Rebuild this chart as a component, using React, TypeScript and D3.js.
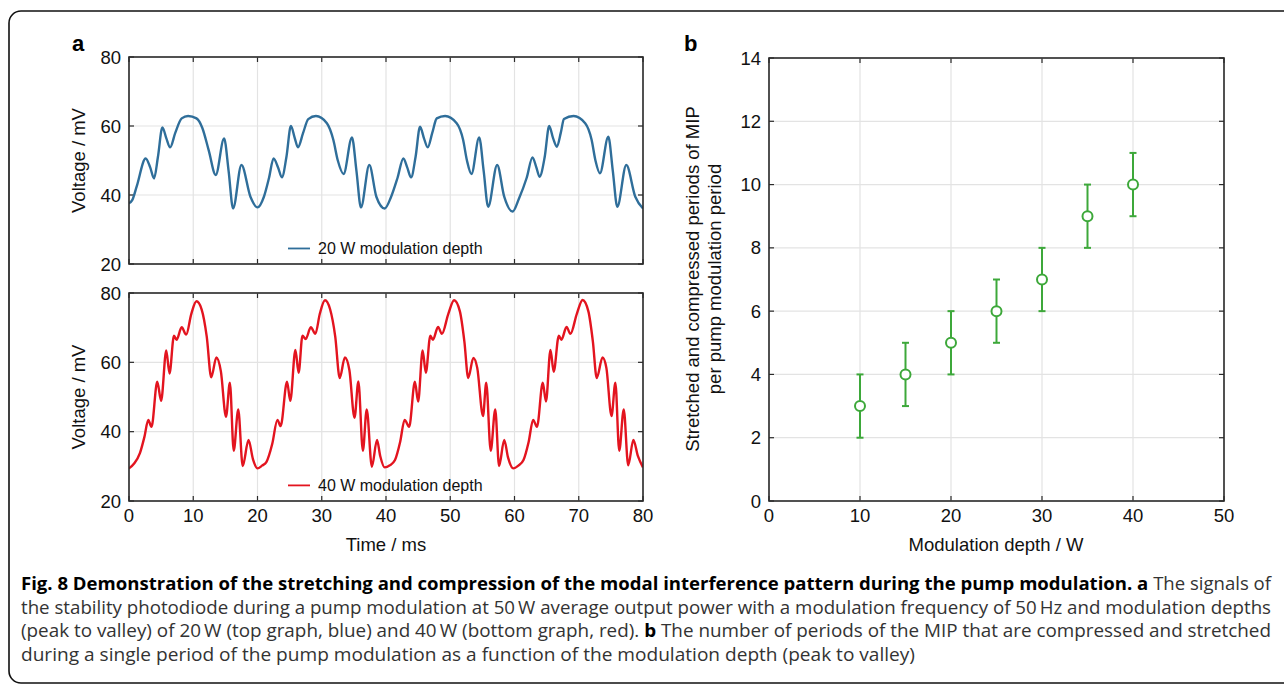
import React from "react";
import * as d3 from "d3";

// panel a: photodiode signal, time in ms, voltage in mV
const timeTicks = [0, 10, 20, 30, 40, 50, 60, 70, 80];
const voltageTicks = [20, 40, 60, 80];

const signal20W: [number, number][] = [
  [0, 37.6], [0.5, 38.5], [1.2, 42.5], [2.6, 50.6], [3.3, 48], [3.9, 44.8], [4.5, 51], [5.2, 59.6],
  [5.8, 56.5], [6.4, 53.8], [7.2, 58], [8.2, 62.2], [9.2, 62.9], [10.5, 62.2], [11.4, 59.5], [12.4, 53],
  [13.5, 45.8], [14.8, 56.4], [15.5, 47], [16.2, 36.1], [17.5, 48.7], [18.9, 39.5], [20.0, 36.4],
  [21.0, 39.5], [21.8, 45], [22.5, 50.6], [23.2, 48], [23.8, 45.1], [24.5, 51], [25.2, 60.0], [25.8, 56.5],
  [26.3, 53.8], [27.1, 58], [27.9, 62], [29.1, 62.9], [30.8, 60.8], [31.8, 56], [32.5, 50], [33.4, 46.1],
  [34.7, 56.7], [35.4, 47], [36.1, 36.4], [37.4, 48.7], [38.5, 39.5], [39.8, 36.1],
  [40.8, 39.5], [41.8, 45], [42.7, 50.6], [43.3, 48], [43.9, 45.1], [44.6, 51], [45.3, 59.8], [45.9, 56.5],
  [46.5, 53.8], [47.2, 58], [47.9, 62.2], [49.2, 62.9], [51.0, 60.8], [52.0, 56], [52.6, 50], [53.3, 46.1],
  [54.5, 56.7], [55.2, 47], [55.9, 36.6], [57.3, 48.7], [58.4, 39.5], [59.7, 35.2],
  [60.7, 39], [61.9, 45], [62.8, 50.9], [63.4, 48], [63.9, 45.3], [64.7, 51], [65.4, 60.0], [66.0, 56.5],
  [66.6, 54.0], [67.2, 58], [67.7, 62], [69.2, 62.9], [71.0, 60.8], [72.0, 56], [72.6, 50], [73.3, 46.3],
  [74.6, 56.9], [75.3, 47], [76.0, 36.6], [77.4, 48.7], [78.8, 39.5], [80, 36.1],
];

const signal40W: [number, number][] = [
  [0, 29.4], [0.8, 30.8], [1.7, 33.8], [2.4, 38.5], [3.0, 43.4], [3.5, 41.4], [4.4, 54.4], [5.0, 48.9],
  [5.8, 63.4], [6.3, 56.8], [7.0, 67.7], [7.4, 66.5], [8.2, 70.1], [8.9, 68.0], [9.7, 74], [10.5, 77.6],
  [11.3, 75.3], [12.1, 67.4], [12.8, 55.7], [13.6, 61.4], [14.3, 57.4], [15.1, 44.3], [15.7, 54.1],
  [16.3, 34.5], [17.0, 46.4], [17.7, 30.1], [18.6, 37.6], [19.3, 32], [20.0, 29.4],
  [20.7, 30.2], [21.4, 31.3], [22.3, 36.5], [23.1, 43.4], [23.6, 41.6], [24.6, 54.4], [25.1, 48.9],
  [25.9, 63.6], [26.4, 57], [27.0, 67.7], [27.5, 66.7], [28.3, 70.1], [29.0, 68.2], [29.7, 74], [30.5, 77.9],
  [31.3, 75.3], [32.1, 67.4], [32.8, 55.5], [33.6, 61.4], [34.3, 57.8], [35.1, 44], [35.7, 54.5],
  [36.4, 34.5], [37.0, 46.4], [37.8, 29.9], [38.6, 37.6], [39.1, 33], [39.8, 29.7],
  [40.6, 30.3], [41.4, 31.8], [42.2, 37], [42.9, 43.4], [43.6, 41.4], [44.5, 54.4], [45.0, 48.7],
  [45.7, 63.4], [46.2, 57], [46.9, 67.7], [47.3, 66.5], [48.1, 70.2], [48.7, 68.2], [49.7, 74], [50.6, 77.9],
  [51.5, 74.7], [52.2, 66], [52.8, 55.5], [53.6, 61.3], [54.2, 58.4], [55.1, 44.5], [55.6, 54.1],
  [56.3, 34.5], [57.0, 46.4], [57.6, 30.1], [58.4, 37.6], [59.0, 32.5], [59.8, 29.4],
  [60.6, 30.2], [61.4, 31.8], [62.2, 37], [62.9, 43.4], [63.5, 41.4], [64.4, 54.1], [64.9, 48.7],
  [65.6, 63.6], [66.1, 57.3], [66.9, 67.7], [67.3, 66.5], [68.1, 70.2], [68.7, 68.2], [69.7, 74], [70.6, 78],
  [71.5, 74.7], [72.2, 66], [72.8, 55.5], [73.7, 61.4], [74.3, 58.4], [75.1, 44.5], [75.7, 54.1],
  [76.3, 34.5], [77.0, 46.4], [77.7, 30.3], [78.5, 37.6], [79.2, 33], [80, 29.7],
];

// panel b: periods of MIP vs modulation depth
const depthTicks = [0, 10, 20, 30, 40, 50];
const periodTicks = [0, 2, 4, 6, 8, 10, 12, 14];
const depthW = [10, 15, 20, 25, 30, 35, 40];
const periodsMean = [3, 4, 5, 6, 7, 9, 10];
const periodsLow = [2, 3, 4, 5, 6, 8, 9];
const periodsHigh = [4, 5, 6, 7, 8, 10, 11];

const captionLines: [string, boolean][][] = [
  [["Fig. 8 Demonstration of the stretching and compression of the modal interference pattern during the pump modulation.", true], [" ", false], ["a", true], [" The signals of", false]],
  [["the stability photodiode during a pump modulation at 50\u2009W average output power with a modulation frequency of 50\u2009Hz and modulation depths", false]],
  [["(peak to valley) of 20\u2009W (top graph, blue) and 40\u2009W (bottom graph, red). ", false], ["b", true], [" The number of periods of the MIP that are compressed and stretched", false]],
  [["during a single period of the pump modulation as a function of the modulation depth (peak to valley)", false]],
];

const BLUE = "#2f6e9a";
const RED = "#e3141f";
const GREEN = "#3da83a";
const FRAME = "#2a2a2a";
const GRID = "#e3e3e3";
const FONT = "'Liberation Sans', Arial, Helvetica, sans-serif";
const FS = 18.5;

type Scale = d3.ScaleLinear<number, number>;

function Frame({ x, y, xTicks, yTicks, xLabels }: { x: Scale; y: Scale; xTicks: number[]; yTicks: number[]; xLabels: boolean }) {
  const [x0, x1] = x.range();
  const [y0, y1] = y.range();
  const tk = 5;
  return (
    <g>
      {xTicks.map((t) => (
        <g key={"x" + t}>
          <line x1={x(t)} x2={x(t)} y1={y1} y2={y0} stroke={GRID} strokeWidth={1.2} />
          <line x1={x(t)} x2={x(t)} y1={y0} y2={y0 - tk} stroke={FRAME} strokeWidth={1.2} />
          <line x1={x(t)} x2={x(t)} y1={y1} y2={y1 + tk} stroke={FRAME} strokeWidth={1.2} />
          {xLabels && (
            <text x={x(t)} y={y0 + 21} textAnchor="middle" fontSize={FS} fill="#111">{t}</text>
          )}
        </g>
      ))}
      {yTicks.map((t) => (
        <g key={"y" + t}>
          <line x1={x0} x2={x1} y1={y(t)} y2={y(t)} stroke={GRID} strokeWidth={1.2} />
          <line x1={x0} x2={x0 + tk} y1={y(t)} y2={y(t)} stroke={FRAME} strokeWidth={1.2} />
          <line x1={x1} x2={x1 - tk} y1={y(t)} y2={y(t)} stroke={FRAME} strokeWidth={1.2} />
          <text x={x0 - 8} y={y(t) + 6.5} textAnchor="end" fontSize={FS} fill="#111">{t}</text>
        </g>
      ))}
    </g>
  );
}

function Border({ x, y }: { x: Scale; y: Scale }) {
  const [x0, x1] = x.range();
  const [y0, y1] = y.range();
  return <rect x={x0} y={y1} width={x1 - x0} height={y0 - y1} fill="none" stroke={FRAME} strokeWidth={1.6} />;
}

function SignalPanel({ data, color, top, bottom, legend, xLabels, id }: {
  data: [number, number][]; color: string; top: number; bottom: number; legend: string; xLabels: boolean; id: string;
}) {
  const x = d3.scaleLinear().domain([0, 80]).range([129, 643]);
  const y = d3.scaleLinear().domain([20, 80]).range([bottom, top]);
  const line = d3.line<[number, number]>().x((d) => x(d[0])).y((d) => y(d[1])).curve(d3.curveMonotoneX);
  const legendY = y(24.5);
  return (
    <g>
      <defs>
        <clipPath id={id}>
          <rect x={129} y={top} width={514} height={bottom - top} />
        </clipPath>
      </defs>
      <Frame x={x} y={y} xTicks={timeTicks} yTicks={voltageTicks} xLabels={xLabels} />
      <path d={line(data) || ""} fill="none" stroke={color} strokeWidth={2.4} strokeLinejoin="round" clipPath={`url(#${id})`} />
      <line x1={288} x2={310} y1={legendY} y2={legendY} stroke={color} strokeWidth={1.8} />
      <text x={318} y={legendY + 5.5} fontSize={16} fill="#111">{legend}</text>
      <Border x={x} y={y} />
      <text transform={`translate(85,${(top + bottom) / 2}) rotate(-90)`} textAnchor="middle" fontSize={FS} fill="#111">
        Voltage / mV
      </text>
    </g>
  );
}

function PeriodPanel() {
  const x = d3.scaleLinear().domain([0, 50]).range([769, 1224]);
  const y = d3.scaleLinear().domain([0, 14]).range([501, 58]);
  const cap = 3.5;
  return (
    <g>
      <Frame x={x} y={y} xTicks={depthTicks} yTicks={periodTicks} xLabels={true} />
      {depthW.map((d, i) => (
        <g key={d} stroke={GREEN} strokeWidth={2} fill="none">
          <line x1={x(d)} x2={x(d)} y1={y(periodsLow[i])} y2={y(periodsHigh[i])} />
          <line x1={x(d) - cap} x2={x(d) + cap} y1={y(periodsLow[i])} y2={y(periodsLow[i])} />
          <line x1={x(d) - cap} x2={x(d) + cap} y1={y(periodsHigh[i])} y2={y(periodsHigh[i])} />
          <circle cx={x(d)} cy={y(periodsMean[i])} r={5} fill="#fff" />
        </g>
      ))}
      <Border x={x} y={y} />
      <text x={996} y={551} textAnchor="middle" fontSize={FS} fill="#111">Modulation depth / W</text>
      <text transform="translate(699,279) rotate(-90)" textAnchor="middle" fontSize={FS} fill="#111">
        Stretched and compressed periods of MIP
      </text>
      <text transform="translate(721,279) rotate(-90)" textAnchor="middle" fontSize={FS} fill="#111">
        per pump modulation period
      </text>
    </g>
  );
}

export default function App() {
  const lineRight = [1271, 1271, 1271, 915];
  return (
    <svg width={1284} height={685} style={{ position: "absolute", left: 0, top: 0, background: "#fff" }} fontFamily={FONT}>
      <rect x={0} y={0} width={1284} height={685} fill="#fff" />
      <rect x={9} y={11} width={1300} height={672} rx={12} fill="none" stroke="#111" strokeWidth={1.6} />
      <text x={72} y={51} fontSize={22} fontWeight="bold" fill="#000">a</text>
      <text x={684} y={51} fontSize={22} fontWeight="bold" fill="#000">b</text>
      <SignalPanel data={signal20W} color={BLUE} top={57} bottom={264} legend="20 W modulation depth" xLabels={false} id="clipA" />
      <SignalPanel data={signal40W} color={RED} top={293} bottom={501} legend="40 W modulation depth" xLabels={true} id="clipB" />
      <text x={386} y={551} textAnchor="middle" fontSize={FS} fill="#111">Time / ms</text>
      <PeriodPanel />
      {captionLines.map((segs, i) => (
        <text key={i} x={21} y={590 + i * 23.5} fontSize={18} fontFamily="'Open Sans', 'Noto Sans', sans-serif"
          fill="#222" textLength={lineRight[i] - 21} lengthAdjust="spacingAndGlyphs">
          {segs.map(([s, b], j) => (
            <tspan key={j} fontWeight={b ? "bold" : "normal"} fill={b ? "#000" : "#333"}>{s}</tspan>
          ))}
        </text>
      ))}
    </svg>
  );
}
